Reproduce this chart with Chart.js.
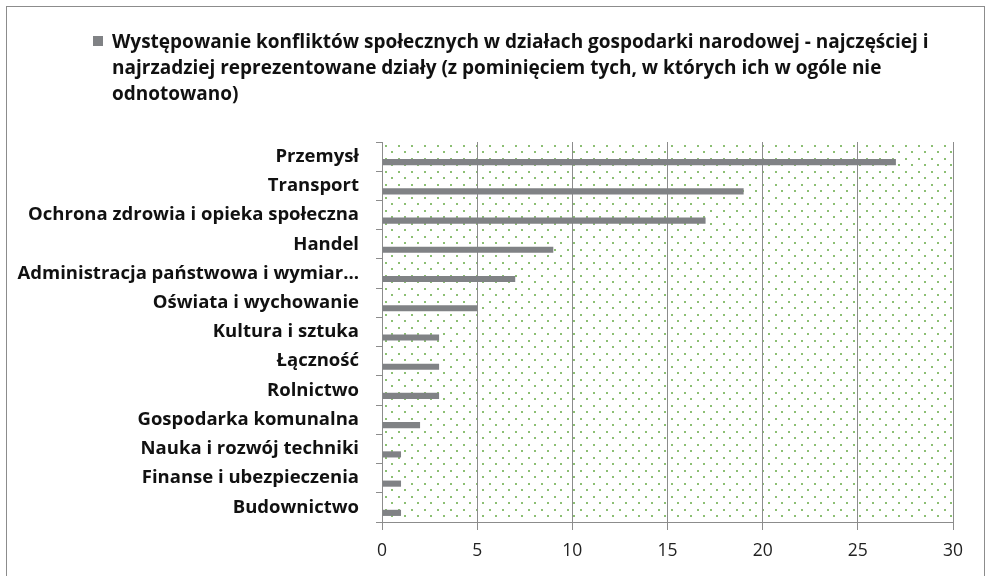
<!DOCTYPE html>
<html>
<head>
<meta charset="utf-8">
<script src="https://cdn.jsdelivr.net/npm/chart.js@4/dist/chart.umd.min.js"></script>
<style>
    body { margin: 0; background: #fff; }
    #wrap { position: relative; width: 990px; height: 576px; overflow: hidden; }
    #frame { position: absolute; left: 6px; top: 6px; width: 979px; height: 600px; border: 1px solid #8c8c8c; box-sizing: border-box; pointer-events: none; }
    #legend { position: absolute; left: 93px; top: 28px; font-family: "Open Sans", sans-serif; font-weight: bold; font-size: 19px; line-height: 26px; color: #111; }
    #legend .box { position: absolute; left: 0; top: 8px; width: 10px; height: 10px; }
    #legend .text { margin-left: 19px; white-space: nowrap; }
</style>
</head>
<body>
<div id="wrap">
    <canvas id="chart" width="990" height="576"></canvas>
    <div id="legend"></div>
    <div id="frame"></div>
</div>
<script>
// Data
const categories = [
    'Przemysł',
    'Transport',
    'Ochrona zdrowia i opieka społeczna',
    'Handel',
    'Administracja państwowa i wymiar...',
    'Oświata i wychowanie',
    'Kultura i sztuka',
    'Łączność',
    'Rolnictwo',
    'Gospodarka komunalna',
    'Nauka i rozwój techniki',
    'Finanse i ubezpieczenia',
    'Budownictwo'
];
const conflictCounts = [27, 19, 17, 9, 7, 5, 3, 3, 3, 2, 1, 1, 1];
const xTickValues = [0, 5, 10, 15, 20, 25, 30];
const seriesLabelLines = [
    'Występowanie konfliktów społecznych w działach gospodarki narodowej - najczęściej i',
    'najrzadziej reprezentowane działy (z pominięciem tych, w których ich w ogóle nie',
    'odnotowano)'
];

const barColor = '#808285';
const lineColor = '#8c8c8c';

// dotted green fill of the plot area
function makeDotPattern(ctx) {
    const tile = document.createElement('canvas');
    tile.width = 13;
    tile.height = 13;
    const t = tile.getContext('2d');
    t.fillStyle = 'rgba(120, 180, 90, 0.85)';
    t.fillRect(3, 3, 2, 2);
    t.fillRect(9, 9, 2, 2);
    return ctx.createPattern(tile, 'repeat');
}

const plotBackground = {
    id: 'plotBackground',
    beforeDraw(chart) {
        const { ctx, chartArea: a } = chart;
        ctx.save();
        ctx.fillStyle = makeDotPattern(ctx);
        ctx.translate(a.left, a.top);
        ctx.fillRect(0, 0, a.right - a.left, a.bottom - a.top);
        ctx.restore();
    }
};

const ctx = document.getElementById('chart').getContext('2d');
const chart = new Chart(ctx, {
    type: 'bar',
    data: {
        labels: categories,
        datasets: [
            {
                // empty slot so the bars sit in the lower half of each band
                label: '',
                data: categories.map(() => null),
                backgroundColor: 'rgba(0,0,0,0)'
            },
            {
                label: seriesLabelLines.join(' '),
                data: conflictCounts,
                backgroundColor: barColor,
                borderWidth: 0
            }
        ]
    },
    options: {
        indexAxis: 'y',
        responsive: false,
        animation: false,
        devicePixelRatio: 1,
        categoryPercentage: 0.75,
        barPercentage: 0.56,
        layout: {
            padding: { top: 142, right: 37, bottom: 0, left: 0 }
        },
        plugins: {
            legend: { display: false },
            tooltip: { enabled: false }
        },
        scales: {
            x: {
                min: 0,
                max: 30,
                afterFit(scale) { scale.height = 54; },
                afterBuildTicks(scale) {
                    scale.ticks = xTickValues.map(v => ({ value: v }));
                },
                grid: {
                    color: lineColor,
                    lineWidth: 1,
                    tickLength: 8,
                    tickColor: lineColor
                },
                border: { color: lineColor, width: 1 },
                ticks: {
                    padding: 11,
                    color: '#222',
                    font: { family: 'Open Sans', size: 17.5 }
                }
            },
            y: {
                afterFit(scale) { scale.width = 382; },
                grid: {
                    drawOnChartArea: false,
                    offset: true,
                    tickLength: 6,
                    tickColor: lineColor
                },
                border: { color: lineColor, width: 1 },
                ticks: {
                    padding: 17,
                    color: '#111',
                    autoSkip: false,
                    font: { family: 'Open Sans', size: 18.5, weight: 'bold' }
                }
            }
        }
    },
    plugins: [plotBackground]
});

// HTML legend built from the visible series
const legendEl = document.getElementById('legend');
const box = document.createElement('span');
box.className = 'box';
box.style.background = chart.data.datasets[1].backgroundColor;
legendEl.appendChild(box);
const text = document.createElement('div');
text.className = 'text';
text.innerHTML = seriesLabelLines.join('<br>');
legendEl.appendChild(text);
</script>
</body>
</html>
